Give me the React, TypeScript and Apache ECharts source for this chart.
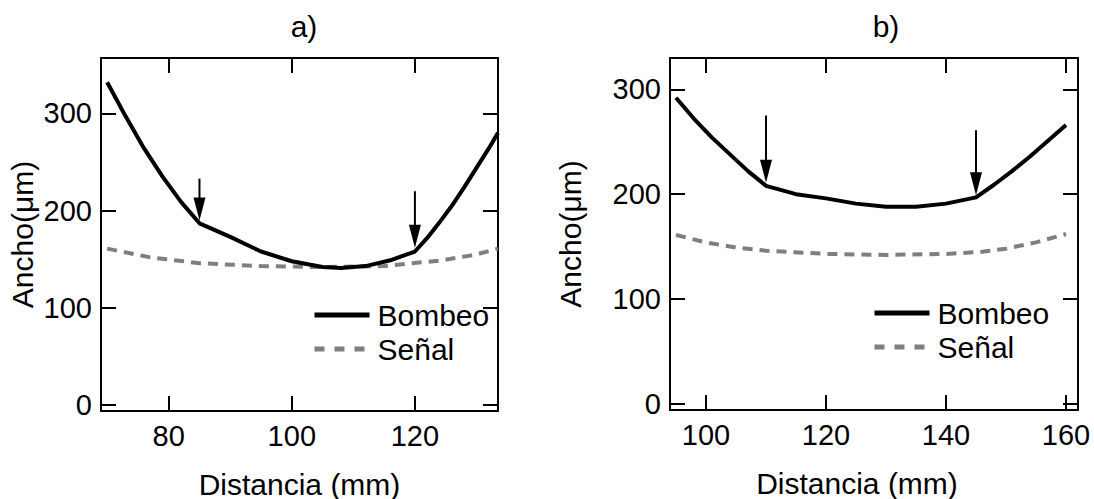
import React, { useEffect, useRef } from "react";
import * as echarts from "echarts";

// ---- data ----
const bombeoA: [number, number][] = [
  [70, 332], [73, 297], [76, 264], [79, 235], [82, 209], [85, 187],
  [90, 173], [95, 158], [100, 148], [105, 142], [108, 141], [112, 143], [116, 149], [120, 158],
  [122, 172], [124, 188], [126, 205], [128, 224], [130, 244], [132, 264], [133.5, 280],
];
const senalA: [number, number][] = [
  [70, 161], [77, 152], [85, 146], [95, 143], [105, 142], [115, 143], [124.5, 149], [130, 155], [133.5, 161],
];
const arrowsA: [number, number, number][] = [
  [85, 233, 190],
  [120, 220, 162],
];

const bombeoB: [number, number][] = [
  [95, 292], [98, 272], [101, 254], [104, 238], [107, 222], [110, 208],
  [115, 200], [120, 196], [125, 191], [130, 188], [135, 188], [140, 191], [145, 197],
  [148, 209], [151, 222], [154, 236], [157, 251], [160, 266],
];
const senalB: [number, number][] = [
  [95, 161], [100, 154], [105, 149], [110, 146], [120, 143], [130, 142], [140, 143], [146, 145], [150, 148], [155, 154], [160, 162],
];
const arrowsB: [number, number, number][] = [
  [110, 275, 211],
  [145, 261, 199],
];

const xTicksA = [80, 100, 120];
const xTicksB = [100, 120, 140, 160];
const yTicks = [0, 100, 200, 300];

const FONT = "'Liberation Sans', Arial, Helvetica, sans-serif";
const FS = 30;
const FS_TICK = 29;

function xAxes(gridIndex: number, min: number, max: number, ticks: number[], nameShift: number) {
  const base = {
    type: "value" as const,
    gridIndex,
    min,
    max,
    axisLine: { show: true, onZero: false, lineStyle: { color: "#000", width: 2 } },
    axisTick: { show: true, inside: true, length: 15, customValues: ticks, lineStyle: { color: "#000", width: 2 } },
    splitLine: { show: false },
  };
  return [
    {
      ...base,
      position: "bottom",
      name: "Distancia (mm)",
      nameLocation: "middle",
      nameGap: 58,
      nameTextStyle: { fontSize: FS, fontFamily: FONT, color: "#000", padding: [0, nameShift, 0, 0] },
      axisLabel: { show: true, customValues: ticks, margin: 10, fontSize: FS_TICK, fontFamily: FONT, color: "#000" },
    },
    { ...base, position: "top", axisLabel: { show: false } },
  ];
}

function yAxes(gridIndex: number, min: number, max: number, nameGap: number) {
  const base = {
    type: "value" as const,
    gridIndex,
    min,
    max,
    axisLine: { show: true, onZero: false, lineStyle: { color: "#000", width: 2 } },
    axisTick: { show: true, inside: true, length: 15, customValues: yTicks, lineStyle: { color: "#000", width: 2 } },
    splitLine: { show: false },
  };
  return [
    {
      ...base,
      position: "left",
      name: "Ancho(\u03bcm)",
      nameLocation: "middle",
      nameRotate: 90,
      nameGap,
      nameTextStyle: { fontSize: FS, fontFamily: FONT, color: "#000" },
      axisLabel: { show: true, customValues: yTicks, margin: 9, fontSize: FS_TICK, fontFamily: FONT, color: "#000" },
    },
    { ...base, position: "right", axisLabel: { show: false } },
  ];
}

const arrowRender = (_params: any, api: any) => {
  const x = api.value(0);
  const top = api.coord([x, api.value(1)]);
  const tip = api.coord([x, api.value(2)]);
  const headLen = 23;
  const headW = 12;
  return {
    type: "group",
    children: [
      {
        type: "line",
        shape: { x1: top[0], y1: top[1], x2: tip[0], y2: tip[1] - headLen + 2 },
        style: { stroke: "#000", lineWidth: 2 },
      },
      {
        type: "polygon",
        shape: {
          points: [
            [tip[0] - headW / 2, tip[1] - headLen],
            [tip[0] + headW / 2, tip[1] - headLen],
            [tip[0], tip[1]],
          ],
        },
        style: { fill: "#000" },
      },
    ],
  };
};

function lineSeries(name: string, data: [number, number][], idx: number, dashed: boolean) {
  return {
    type: "line",
    name,
    xAxisIndex: idx,
    yAxisIndex: idx,
    data,
    symbol: "none",
    smooth: false,
    lineStyle: dashed
      ? { color: "#7f7f7f", width: 4, type: [10, 7] }
      : { color: "#000", width: 4 },
    itemStyle: { color: dashed ? "#7f7f7f" : "#000" },
    z: dashed ? 2 : 3,
  };
}

function legend(left: number, top: number) {
  return {
    orient: "vertical",
    left,
    top,
    itemWidth: 55,
    itemHeight: 14,
    itemGap: 4,
    selectedMode: false,
    data: [
      { name: "Bombeo" },
      { name: "Se\u00f1al", lineStyle: { type: [10, 10] } },
    ],
    itemStyle: { opacity: 0, color: "transparent", borderWidth: 0 },
    lineStyle: { width: 5, type: "inherit" },
    textStyle: { fontSize: FS, fontFamily: FONT, color: "#000", padding: [0, 0, 0, 3] },
  };
}

export default function App() {
  const ref = useRef<HTMLDivElement>(null);
  useEffect(() => {
    if (!ref.current) return;
    const chart = echarts.init(ref.current, undefined, { renderer: "svg" });
    chart.setOption({
      animation: false,
      backgroundColor: "#fff",
      grid: [
        { left: 101, top: 58, width: 397, height: 353, outerBoundsMode: "none", containLabel: false },
        { left: 670, top: 58, width: 408, height: 352, outerBoundsMode: "none", containLabel: false },
      ],
      xAxis: [...xAxes(0, 69, 133.5, xTicksA, 0), ...xAxes(1, 94, 162, xTicksB, 34)],
      yAxis: [...yAxes(0, -6, 357, 64), ...yAxes(1, -6, 330, 85)],
      legend: [legend(307, 295), legend(867, 293)],
      graphic: [
        { type: "text", x: 304, y: 26, style: { text: "a)", fontSize: FS, fontFamily: FONT, fill: "#000", align: "center", verticalAlign: "middle" } },
        { type: "text", x: 886, y: 26, style: { text: "b)", fontSize: FS, fontFamily: FONT, fill: "#000", align: "center", verticalAlign: "middle" } },
      ],
      series: [
        lineSeries("Se\u00f1al", senalA, 0, true),
        lineSeries("Bombeo", bombeoA, 0, false),
        { type: "custom", name: "arrowsA", xAxisIndex: 0, yAxisIndex: 0, data: arrowsA, renderItem: arrowRender, z: 4, encode: { x: 0, y: [1, 2] } },
        lineSeries("Se\u00f1al", senalB, 2, true),
        lineSeries("Bombeo", bombeoB, 2, false),
        { type: "custom", name: "arrowsB", xAxisIndex: 2, yAxisIndex: 2, data: arrowsB, renderItem: arrowRender, z: 4, encode: { x: 0, y: [1, 2] } },
      ],
    });
    return () => chart.dispose();
  }, []);
  return (
    <div
      ref={ref}
      style={{ position: "absolute", left: 0, top: 0, width: 1094, height: 499, background: "#fff" }}
    />
  );
}
